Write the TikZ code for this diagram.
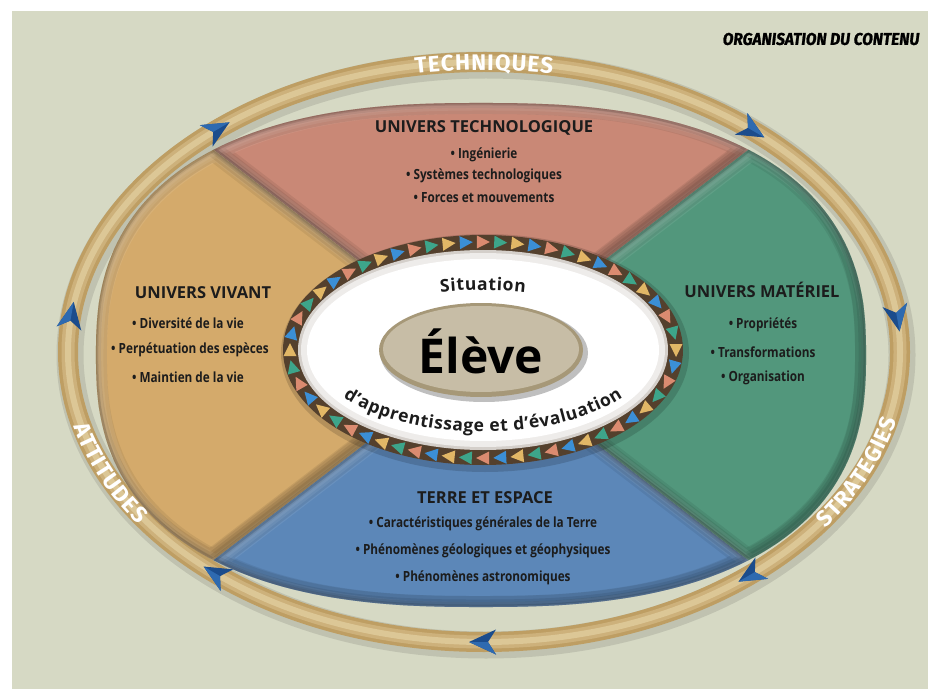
\documentclass[tikz,border=0pt]{standalone}
\usepackage{fontspec}
\usepackage{graphicx}
\setmainfont{Open Sans}
\newfontfamily\condfont[FakeStretch=0.84]{Open Sans}
\newfontfamily\ringfont{Fira Sans}
\newfontfamily\headfont[FakeStretch=0.9,FakeSlant=0.12,BoldFeatures={FakeStretch=0.9,FakeSlant=0.12,FakeBold=1.2}]{Fira Sans}
\usetikzlibrary{decorations.text,decorations.markings}

\definecolor{bgc}{HTML}{D6D9C4}
\definecolor{ringc}{HTML}{BE9E63}
\definecolor{ringm}{HTML}{CDB17B}
\definecolor{ringl}{HTML}{DCC796}
\definecolor{arrowc}{HTML}{1B4C8C}
\definecolor{arrowl}{HTML}{2E6AB0}
\definecolor{pinkc}{HTML}{C98876}
\definecolor{yellc}{HTML}{D4AA6B}
\definecolor{greenc}{HTML}{52977C}
\definecolor{bluec}{HTML}{5C87B8}
\definecolor{brownc}{HTML}{54402D}
\definecolor{elevec}{HTML}{C7BDA6}
\definecolor{elevee}{HTML}{A69878}
\definecolor{txt}{HTML}{1C1C1C}
\definecolor{tri0}{HTML}{3B8FD6}
\definecolor{tri1}{HTML}{E2B766}
\definecolor{tri2}{HTML}{3DA58A}
\definecolor{tri3}{HTML}{DB8B70}

\begin{document}
\begin{tikzpicture}[x=1pt,y=1pt,
  declare function={sx(\t)=sign(cos(\t))*pow(abs(cos(\t))+0.0001,0.8);
                    sy(\t)=sign(sin(\t))*pow(abs(sin(\t))+0.0001,0.8);},
  title/.style={font=\fontsize{16.5}{20}\selectfont\bfseries, text=txt, inner sep=0},
  item/.style={font=\fontsize{14}{16}\condfont\bfseries, text=txt, inner sep=0},
  ringlabel/.style={decorate, decoration={text effects along path, text={#1}, text align=center,
     text effects/.cd, text along path,
     characters={font=\fontsize{22.5}{25}\ringfont\bfseries, text=white, inner xsep=0.5pt}}},
  curvetext/.style={decorate, decoration={text effects along path, text={#1}, text align=center,
     text effects/.cd, text along path,
     characters={font=\fontsize{17.5}{20}\selectfont\bfseries, text=txt, inner xsep=0.3pt}}}
]
\useasboundingbox (0,0) rectangle (928,689);
\fill[white] (0,0) rectangle (928,689);
\fill[bgc] (12,0) rectangle (928,678);

% outer ring
\draw[black, opacity=0.10, line width=27] (486,334) ellipse[x radius=416, y radius=290];
\draw[ringc, line width=20] (484,337) ellipse[x radius=416, y radius=290];
\draw[ringm, line width=13] (484,337) ellipse[x radius=416, y radius=290];
\draw[ringl, line width=6] (484,337) ellipse[x radius=416, y radius=290];

% ring arrows (clockwise)
\foreach \px/\py/\ang in {216.6/559.1/30.3, 751.4/559.1/-30.3, 896.9/372.3/-80,
   751.4/114.9/-149.7, 484/47/180, 216.6/114.9/149.7, 71.1/372.3/80}{
  \begin{scope}[shift={(\px,\py)}, rotate=\ang]
    \fill[arrowc] (15,0) -- (-12,12.5) -- (-4,0) -- (-12,-12.5) -- cycle;
    \fill[arrowl] (15,0) -- (-12,12.5) -- (-4,0) -- cycle;
  \end{scope}
}

% ring labels
\path[ringlabel=TECHNIQUES] (484,337) ++(106:408 and 282) arc[start angle=106, end angle=74, x radius=408, y radius=282];
\path[ringlabel=STRATEGIES] (484,337) ++(-45:424 and 298) arc[start angle=-45, end angle=-3, x radius=424, y radius=298];
\path[ringlabel=ATTITUDES] (484,337) ++(183:424 and 298) arc[start angle=183, end angle=225, x radius=424, y radius=298];

% quadrants
\foreach \a/\b/\col in {50.65/129.35/pinkc, 129.35/230.65/yellc, 230.65/309.35/bluec, -50.65/50.65/greenc}{
  \begin{scope}
    \clip (481,334) -- plot[domain=\a:\b, samples=60] ({481+385*sx(\x)}, {334+252*sy(\x)}) -- cycle;
    \fill[\col] (0,0) rectangle (928,689);
    \foreach \w/\o in {16/0.08, 9/0.08, 4/0.08}{
      \draw[white, opacity=\o, line width=\w, shift={(3,-3)}] (481,334) -- plot[domain=\a:\b, samples=60] ({481+385*sx(\x)}, {334+252*sy(\x)}) -- cycle;
      \draw[black, opacity=\o, line width=\w, shift={(-3,3)}] (481,334) -- plot[domain=\a:\b, samples=60] ({481+385*sx(\x)}, {334+252*sy(\x)}) -- cycle;
    }
    \draw[black, opacity=0.07, line width=22] (481,334) -- plot[domain=\a:\b, samples=60] ({481+385*sx(\x)}, {334+252*sy(\x)}) -- cycle;
    \draw[black, opacity=0.10, line width=5] (481,334) -- plot[domain=\a:\b, samples=60] ({481+385*sx(\x)}, {334+252*sy(\x)}) -- cycle;
  \end{scope}
}

% quadrant texts
\node[title] (ttech) at (484,561) {UNIVERS TECHNOLOGIQUE};
\node[item] (t1) at (484,534) {• Ingénierie};
\node[item] (t2) at (484,513) {• Systèmes technologiques};
\node[item] (t3) at (484,491) {• Forces et mouvements};

\node[title] (tviv) at (203,396) {UNIVERS VIVANT};
\node[item] (v1) at (188,366) {• Diversité de la vie};
\node[item] (v2) at (190,339) {• Perpétuation des espèces};
\node[item] (v3) at (188,312) {• Maintien de la vie};

\node[title] (tmat) at (762,399) {UNIVERS MATÉRIEL};
\node[item] (m1) at (763,364) {• Propriétés};
\node[item] (m2) at (763,337) {• Transformations};
\node[item] (m3) at (763,311) {• Organisation};

\node[title] (tter) at (485,191) {TERRE ET ESPACE};
\node[item] (e1) at (483,165) {• Caractéristiques générales de la Terre};
\node[item] (e2) at (483,138) {• Phénomènes géologiques et géophysiques};
\node[item] (e3) at (483,111) {• Phénomènes astronomiques};

% inner triangle ring
\fill[black, opacity=0.15] (485,336) ellipse[x radius=204, y radius=119];
\fill[brownc] (483,339) ellipse[x radius=200, y radius=115];
\path[decorate, decoration={markings,
  mark=between positions 0 and 0.99 step 0.017857 with {
    \pgfmathtruncatemacro\cc{mod(\pgfkeysvalueof{/pgf/decoration/mark info/sequence number},4)}
    \fill[tri\cc] (-7,0) -- (6,6.5) -- (6,-6.5) -- cycle;}}]
  (483,339) ellipse[x radius=193, y radius=108];
\fill[white!75!brownc] (483,339) ellipse[x radius=185, y radius=100];
\fill[white!90!brownc] (483,339) ellipse[x radius=182, y radius=97];
\fill[white] (483,339) ellipse[x radius=176, y radius=91];

% central ellipse
\fill[black, opacity=0.25] (484,336) ellipse[x radius=104, y radius=49];
\fill[elevee] (481,339) ellipse[x radius=102, y radius=47];
\fill[elevec] (481,340) ellipse[x radius=98, y radius=43];
\node[font=\fontsize{48}{50}\selectfont\bfseries, text=black, inner sep=0] (eleve) at (481,338) {Élève};

% curved texts
\path[curvetext=Situation] (483,339) ++(118:150 and 60) arc[start angle=118, end angle=62, x radius=150, y radius=60];
\path[curvetext=d’apprentissage et d’évaluation] (483,345) ++(196:175 and 88) arc[start angle=196, end angle=344, x radius=175, y radius=88];

% header
\node[anchor=east, font=\fontsize{17}{19}\headfont\bfseries, text=black, inner sep=0] (org) at (919,650) {ORGANISATION DU CONTENU};
\end{tikzpicture}
\end{document}
